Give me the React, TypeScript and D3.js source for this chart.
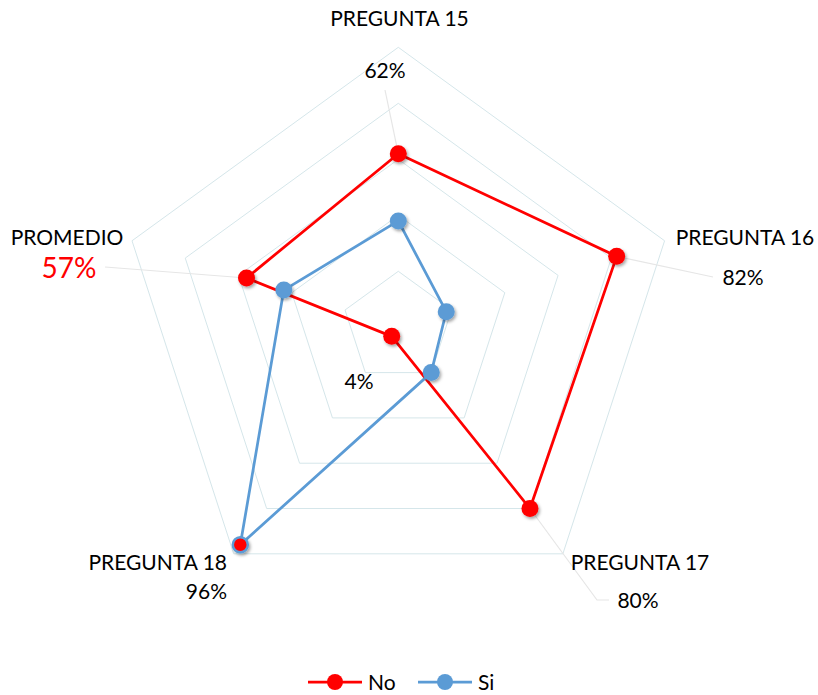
import React from "react";
import * as d3 from "d3";

const categories = ["PREGUNTA 15", "PREGUNTA 16", "PREGUNTA 17", "PREGUNTA 18", "PROMEDIO"];
const noValues = [62, 82, 80, 4, 57];
const siValues = [38, 18, 20, 96, 43];
const gridTicks = [20, 40, 60, 80, 100];
const seriesNames = ["No", "Si"];
const seriesColors = ["#ff0000", "#5b9bd5"];

const W = 818;
const H = 695;
const cx = 398.3;
const cy = 327.3;
const R = 280;
const FONT = "Lato, 'Liberation Sans', sans-serif";

export default function App() {
  const r = d3.scaleLinear().domain([0, 100]).range([0, R]);
  const angle = d3
    .scaleLinear()
    .domain([0, categories.length])
    .range([-Math.PI / 2, (3 * Math.PI) / 2]);
  const pt = (i: number, v: number): [number, number] => [
    cx + r(v) * Math.cos(angle(i)),
    cy + r(v) * Math.sin(angle(i)),
  ];
  const ring = (t: number) =>
    d3.line()(categories.map((_, i) => pt(i, t)).concat([pt(0, t)]) as [number, number][]) || "";
  const seriesPath = (vals: number[]) =>
    d3.line()(vals.map((v, i) => pt(i, v)).concat([pt(0, vals[0])])) || "";

  const noPts = noValues.map((v, i) => pt(i, v));
  const siPts = siValues.map((v, i) => pt(i, v));

  const labels = [
    { cat: categories[0], val: `${noValues[0]}%`, catX: 399.5, catY: 26, valX: 385, valY: 78, anchor: "middle", valColor: "#000", valSize: 21, leader: [noPts[0], [385, 90]] },
    { cat: categories[1], val: `${noValues[1]}%`, catX: 745, catY: 245, valX: 743, valY: 285, anchor: "middle", valColor: "#000", valSize: 21, leader: [noPts[1], [713, 277]] },
    { cat: categories[2], val: `${noValues[2]}%`, catX: 640, catY: 570, valX: 638, valY: 608, anchor: "middle", valColor: "#000", valSize: 21, leader: [noPts[2], [597, 600], [609, 600]] },
    { cat: categories[3], val: `${siValues[3]}%`, catX: 227, catY: 570, valX: 227, valY: 599, anchor: "end", valColor: "#000", valSize: 21, leader: null },
    { cat: categories[4], val: `${noValues[4]}%`, catX: 67, catY: 245, valX: 69, valY: 278, anchor: "middle", valColor: "#ff0000", valSize: 28, leader: [[105, 267], noPts[4]] },
  ];

  return (
    <div style={{ position: "fixed", left: 0, top: 0, width: W, height: H, background: "#fff" }}>
      <svg width={W} height={H} style={{ display: "block" }}>
        <defs>
          <filter id="sh" x="-50%" y="-50%" width="200%" height="200%">
            <feDropShadow dx="1.5" dy="2" stdDeviation="1.6" floodColor="#000" floodOpacity="0.35" />
          </filter>
        </defs>
        <rect width={W} height={H} fill="#fff" />
        {gridTicks.map((t) => (
          <path key={t} d={ring(t)} fill="none" stroke="#d5e6ea" strokeWidth={1} />
        ))}
        {labels.map((l, i) =>
          l.leader ? (
            <path
              key={"ld" + i}
              d={d3.line()(l.leader as [number, number][]) || ""}
              fill="none"
              stroke="#e6e6e6"
              strokeWidth={1.2}
            />
          ) : null
        )}
        {[noValues, siValues].map((vals, s) => (
          <g key={s}>
            <path d={seriesPath(vals)} fill="none" stroke={seriesColors[s]} strokeWidth={2.75} strokeLinejoin="round" />
          </g>
        ))}
        {noPts.map((p, i) => (
          <circle key={"n" + i} cx={p[0]} cy={p[1]} r={8.5} fill={seriesColors[0]} filter="url(#sh)" />
        ))}
        {siPts.map((p, i) => (
          <circle
            key={"s" + i}
            cx={p[0]}
            cy={p[1]}
            r={i === 3 ? 7.5 : 8.5}
            fill={i === 3 ? seriesColors[0] : seriesColors[1]}
            stroke={seriesColors[1]}
            strokeWidth={i === 3 ? 2.5 : 0}
            filter="url(#sh)"
          />
        ))}
        {labels.map((l, i) => (
          <g key={"lb" + i} fontFamily={FONT}>
            <text x={l.catX} y={l.catY} textAnchor={l.anchor} fontSize={21} fill="#000">
              {l.cat}
            </text>
            <text x={l.valX} y={l.valY} textAnchor={l.anchor} fontSize={l.valSize} fill={l.valColor}>
              {l.val}
            </text>
          </g>
        ))}
        <text x={359} y={389} textAnchor="middle" fontSize={21} fontFamily={FONT} fill="#000">
          {`${noValues[3]}%`}
        </text>
        {seriesNames.map((n, i) => {
          const x0 = 308 + i * 110;
          return (
            <g key={n}>
              <line x1={x0} x2={x0 + 54} y1={682} y2={682} stroke={seriesColors[i]} strokeWidth={2.75} />
              <circle cx={x0 + 27} cy={682} r={8} fill={seriesColors[i]} />
              <text x={x0 + 60} y={690} fontSize={21} fontFamily={FONT} fill="#000">
                {n}
              </text>
            </g>
          );
        })}
      </svg>
    </div>
  );
}
